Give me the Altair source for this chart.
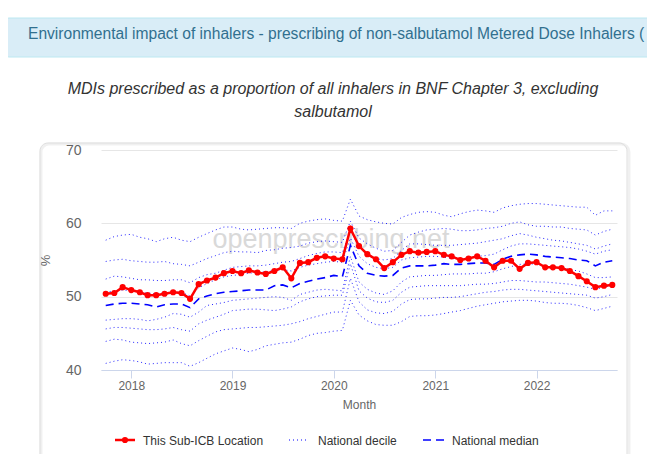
import altair as alt
import pandas as pd

# ---------------- data ----------------
months = pd.date_range("2017-10-01", "2022-10-01", freq="MS").strftime("%Y-%m-%d").tolist()

sub_icb = [50.4, 50.5, 51.3,
           50.9, 50.6, 50.2, 50.2, 50.4, 50.6, 50.5, 49.7, 51.7, 52.2, 52.6, 53.2,
           53.5, 53.2, 53.6, 53.3, 53.1, 53.5, 54.0, 52.5, 54.6, 54.7, 55.3, 55.5,
           55.2, 55.1, 59.3, 56.9, 55.8, 55.1, 53.9, 54.7, 55.7, 56.2, 56.0, 56.1,
           56.2, 55.7, 55.5, 55.0, 55.2, 55.5, 54.9, 54.0, 54.9, 54.9, 53.8, 54.6,
           54.7, 54.0, 54.0, 53.9, 53.5, 52.8, 52.1, 51.3, 51.5, 51.6]

national_median = [48.8, 49.0, 49.1,
                   49.1, 49.0, 48.9, 48.6, 48.9, 49.0, 49.0, 48.5, 49.7, 50.1, 50.4, 50.6,
                   50.7, 50.8, 50.9, 50.9, 50.9, 51.5, 51.6, 51.2, 51.8, 52.1, 52.4, 52.6,
                   52.9, 52.7, 57.0, 54.2, 53.2, 52.9, 52.8, 52.9, 53.9, 54.2, 54.2, 54.2,
                   54.3, 54.5, 54.4, 54.4, 54.5, 54.6, 54.6, 54.4, 55.1, 55.5, 55.7, 55.8,
                   55.7, 55.5, 55.4, 55.3, 55.2, 55.0, 54.9, 54.2, 54.7, 54.9]

p90 = [57.7, 58.2, 58.4,
       58.5, 58.1, 57.9, 57.5, 57.9, 58.1, 57.7, 57.5, 58.1, 58.6, 59.1, 59.5,
       59.5, 59.2, 59.1, 59.2, 59.3, 59.4, 59.4, 59.3, 60.0, 60.3, 60.5, 60.6,
       60.4, 60.3, 63.3, 61.0, 60.5, 60.2, 60.0, 59.9, 60.8, 61.2, 61.5, 61.6,
       61.5, 61.1, 60.9, 61.3, 61.6, 61.8, 61.7, 61.5, 62.1, 62.4, 62.6, 62.7,
       62.7, 62.6, 62.5, 62.4, 62.3, 62.2, 62.2, 61.1, 61.7, 61.7]

p80 = [54.8, 55.0, 55.1, 54.9, 54.8, 54.7, 54.7, 54.8, 54.5, 54.4, 54.2, 54.7, 55.2,
       55.6, 56.0, 56.2, 56.1, 56.1, 56.0, 56.3, 56.4, 56.6, 56.7, 56.9, 57.3, 57.5, 57.6, 57.5, 57.4,
       60.3, 58.0, 57.2, 56.6, 56.2, 56.3, 57.4,
       58.4, 58.8, 59.1, 59.2, 59.3, 59.2, 59.0, 59.0, 59.1, 59.3, 59.4, 59.6, 60.0, 60.2, 59.8,
       59.6, 59.6, 59.5, 59.5, 59.3, 59.2, 59.1, 58.4, 58.9, 59.2]

p70 = [52.4, 52.8, 52.7, 52.5, 52.3, 52.3, 52.2, 52.2, 52.3, 52.3, 51.9, 52.6, 53.0,
       53.2, 53.6, 54.0, 54.1, 54.2, 54.2, 54.3, 54.5, 54.7, 54.8, 55.2, 55.6, 55.9, 56.1, 56.1, 56.0,
       59.0, 56.8, 55.9, 55.2, 55.0, 55.2, 56.3,
       57.2, 57.2, 57.1, 57.0, 57.0, 57.0, 57.1, 57.2, 57.3, 57.5, 57.7, 57.9, 58.3, 58.6, 58.4,
       58.1, 57.9, 57.7, 57.6, 57.4, 57.2, 57.0, 56.5, 56.9, 57.2]

p60 = [50.6, 50.8, 50.9, 50.8, 50.6, 50.5, 50.4, 50.5, 50.6, 50.6, 50.1, 51.2, 51.8,
       52.3, 52.7, 52.9, 53.0, 53.2, 53.3, 53.4, 53.6, 53.7, 53.5, 54.0, 54.3, 54.5, 54.7, 54.8, 54.7,
       58.0, 55.5, 54.5, 54.0, 53.8, 54.0, 55.0,
       55.3, 55.4, 55.5, 55.5, 55.4, 55.2, 55.1, 55.3, 55.5, 55.6, 55.8, 56.4, 56.9, 57.2, 57.2,
       57.1, 57.0, 56.9, 56.8, 56.7, 56.5, 56.2, 55.8, 56.2, 56.4]

p40 = [46.8, 46.9, 47.0, 47.0, 46.9, 46.7, 46.9, 47.2, 47.7, 47.6, 47.2, 47.9, 48.8,
       49.0, 49.2, 49.5, 49.6, 49.7, 49.8, 49.9, 50.0, 49.9, 49.5, 50.3, 50.6, 50.9, 51.0, 50.9, 50.8,
       55.5, 52.0, 51.0, 50.5, 50.3, 50.8, 52.0,
       52.7, 52.8, 52.9, 52.9, 53.0, 53.1, 53.1, 53.1, 53.2, 53.2, 53.4, 53.8, 54.1, 54.4, 54.5,
       54.4, 54.2, 54.0, 54.0, 53.7, 53.5, 53.1, 52.6, 52.6, 52.7]

p30 = [45.6, 45.8, 45.8, 45.7, 45.6, 45.5, 45.5, 45.6, 45.8, 45.5, 45.3, 46.3, 46.8,
       47.2, 47.6, 48.1, 48.2, 48.3, 48.3, 48.2, 48.1, 48.3, 48.6, 49.3, 49.7, 50.0, 50.1, 50.2, 50.2,
       54.5, 50.8, 49.8, 49.3, 49.2, 49.5, 50.6,
       51.3, 51.4, 51.5, 51.5, 51.5, 51.5, 51.5, 51.6, 51.7, 51.7, 51.8, 52.0, 52.2, 52.2, 52.1,
       52.0, 52.0, 51.9, 51.8, 51.7, 51.5, 51.3, 51.0, 51.3, 51.5]

p20 = [43.9, 44.2, 44.1, 43.8, 43.7, 43.6, 43.7, 43.8, 44.1, 43.6, 43.3, 44.0, 44.6,
       45.2, 45.5, 45.6, 45.7, 45.8, 45.8, 45.9, 46.0, 46.1, 46.3, 46.6, 47.0, 47.3, 47.6, 47.9, 47.9,
       52.5, 49.3, 48.2, 47.8, 47.7, 48.0, 49.0,
       49.6, 49.7, 49.7, 49.8, 49.9, 49.9, 50.0, 50.2, 50.4, 50.6, 50.7, 50.9, 51.0, 51.0, 50.9,
       50.8, 50.7, 50.6, 50.5, 50.4, 50.3, 50.2, 49.8, 50.0, 50.3]

p10 = [40.9, 41.2, 41.4, 41.3, 41.1, 40.8, 40.9, 41.0, 41.0, 41.0, 40.5, 41.0, 41.6,
       42.2, 42.6, 43.0, 42.8, 42.5, 42.8, 43.3, 43.5, 43.7, 43.8, 44.2, 44.7, 45.0, 45.1, 45.3, 45.4,
       49.5, 47.5, 46.7, 46.2, 46.1, 46.1, 46.6,
       47.3, 47.4, 47.4, 47.5, 47.7, 47.9, 48.1, 48.4, 48.7, 48.9, 49.1, 49.3, 49.4, 49.5, 49.5,
       49.4, 49.2, 49.1, 49.1, 49.0, 48.8, 48.5, 48.1, 48.4, 48.7]

decile_series = {"10th": p10, "20th": p20, "30th": p30, "40th": p40,
                 "60th": p60, "70th": p70, "80th": p80, "90th": p90}

header_text = "Environmental impact of inhalers - prescribing of non-salbutamol Metered Dose Inhalers ("
title_lines = ["MDIs prescribed as a proportion of all inhalers in BNF Chapter 3, excluding",
               "salbutamol"]
legend_labels = ["This Sub-ICB Location", "National decile", "National median"]
year_ticks = [2018, 2019, 2020, 2021, 2022]

# ---------------- tables ----------------
df_sub = pd.DataFrame({"month": months, "value": sub_icb})
df_med = pd.DataFrame({"month": months, "value": national_median})
df_dec = pd.concat([pd.DataFrame({"month": months, "value": v, "decile": k})
                    for k, v in decile_series.items()], ignore_index=True)

FONT = "Liberation Sans"
one = alt.Data(values=[{"k": 0}])

x_enc = alt.X(
    "month:T",
    scale=alt.Scale(type="utc",
                    domain=[alt.DateTime(year=2017, month=9, date=14, utc=True),
                            alt.DateTime(year=2022, month=10, date=18, utc=True)]),
    axis=alt.Axis(
        values=[alt.DateTime(year=y, month=1, date=1, utc=True) for y in year_ticks],
        labelExpr="utcFormat(datum.value, '%Y')",
        title="Month", titleFontSize=12, titleFontWeight="normal", titleColor="#666666",
        titleFont=FONT, titleY=38, titleBaseline="alphabetic",
        labelFont=FONT, labelFontSize=12, labelColor="#666666", labelPadding=2,
        tickSize=8, tickColor="#ccd6eb", domainColor="#ccd6eb", grid=False,
    ),
)
y_enc = alt.Y(
    "value:Q",
    scale=alt.Scale(domain=[40, 70], nice=False, zero=False),
    axis=alt.Axis(
        values=[40, 50, 60, 70], title="%", titleFont=FONT, titleFontSize=13,
        titleFontWeight="normal", titleColor="#666666", titleAngle=-90,
        titleX=-56, titleY=110, titleAlign="center", titleBaseline="middle",
        labelFont=FONT, labelFontSize=14, labelColor="#666666", labelPadding=20,
        ticks=False, domain=False, grid=True, gridColor="#e6e6e6",
    ),
)

# ---------------- decorations ----------------
shadow = alt.Chart(one).mark_rect(fill=None, stroke="#000000", strokeOpacity=0.06, strokeWidth=3,
                                  cornerRadius=8).encode(
    x=alt.value(-60), x2=alt.value(528), y=alt.value(-6), y2=alt.value(330))
box = alt.Chart(one).mark_rect(fill=None, stroke="#dedede", strokeWidth=1, cornerRadius=8).encode(
    x=alt.value(-61), x2=alt.value(526), y=alt.value(-7), y2=alt.value(330))
header = alt.Chart(one).mark_rect(fill="#d9edf7", stroke="#bce8f1", strokeWidth=1, cornerRadius=4).encode(
    x=alt.value(-96), x2=alt.value(600), y=alt.value(-132), y2=alt.value(-93))
header_t = alt.Chart(one).mark_text(align="left", baseline="alphabetic", font=FONT, fontSize=15.6,
                                    color="#31708f").encode(
    x=alt.value(-73), y=alt.value(-111), text=alt.value(header_text))
t1 = alt.Chart(one).mark_text(align="center", baseline="alphabetic", font=FONT, fontSize=16,
                              fontStyle="italic", color="#333333").encode(
    x=alt.value(232), y=alt.value(-56), text=alt.value(title_lines[0]))
t2 = alt.Chart(one).mark_text(align="center", baseline="alphabetic", font=FONT, fontSize=16,
                              fontStyle="italic", color="#333333").encode(
    x=alt.value(232), y=alt.value(-33), text=alt.value(title_lines[1]))
watermark = alt.Chart(one).mark_text(align="center", baseline="middle", font=FONT, fontSize=27,
                                     color="#d0d0d0", opacity=0.8).encode(
    x=alt.value(230), y=alt.value(90), text=alt.value("openprescribing.net"))

# ---------------- data layers ----------------
dec_lines = alt.Chart(df_dec).mark_line(color="#0000ff", strokeWidth=1, strokeDash=[1, 3],
                                        opacity=0.85).encode(x=x_enc, y=y_enc, detail="decile:N")
med_line = alt.Chart(df_med).mark_line(color="#0000ff", strokeWidth=1.6, strokeDash=[8, 5]).encode(
    x=x_enc, y=y_enc)
sub_line = alt.Chart(df_sub).mark_line(color="#ff0000", strokeWidth=2.5).encode(x=x_enc, y=y_enc)
sub_pts = alt.Chart(df_sub).mark_point(filled=True, color="#ff0000", size=38, opacity=1).encode(
    x=x_enc, y=y_enc)

# ---------------- legend ----------------
LY = 290
lg1 = alt.Chart(one).mark_rule(color="#ff0000", strokeWidth=2.5).encode(
    x=alt.value(14), x2=alt.value(34), y=alt.value(LY))
lg1p = alt.Chart(one).mark_point(filled=True, color="#ff0000", size=38, opacity=1).encode(
    x=alt.value(24), y=alt.value(LY))
lg2 = alt.Chart(one).mark_rule(color="#0000ff", strokeWidth=1, strokeDash=[1, 3]).encode(
    x=alt.value(188), x2=alt.value(207), y=alt.value(LY))
lg3 = alt.Chart(one).mark_rule(color="#0000ff", strokeWidth=1.6, strokeDash=[8, 5]).encode(
    x=alt.value(322), x2=alt.value(344), y=alt.value(LY))
lt = [alt.Chart(one).mark_text(align="left", baseline="alphabetic", font=FONT, fontSize=12,
                               color="#333333").encode(x=alt.value(xv), y=alt.value(LY + 5),
                                                       text=alt.value(lab))
      for xv, lab in zip([42, 217, 351], legend_labels)]

chart = alt.layer(
    shadow, box, header, header_t, t1, t2, watermark,
    dec_lines, med_line, sub_line, sub_pts,
    lg1, lg1p, lg2, lg3, *lt,
).properties(
    width=516, height=220,
    autosize=alt.AutoSizeParams(type="none"),
    padding={"left": 93, "top": 142, "right": 30, "bottom": 84},
    background="white",
).configure_view(stroke=None)

chart.save("out.html", embed_options={"renderer": "svg", "actions": False})
